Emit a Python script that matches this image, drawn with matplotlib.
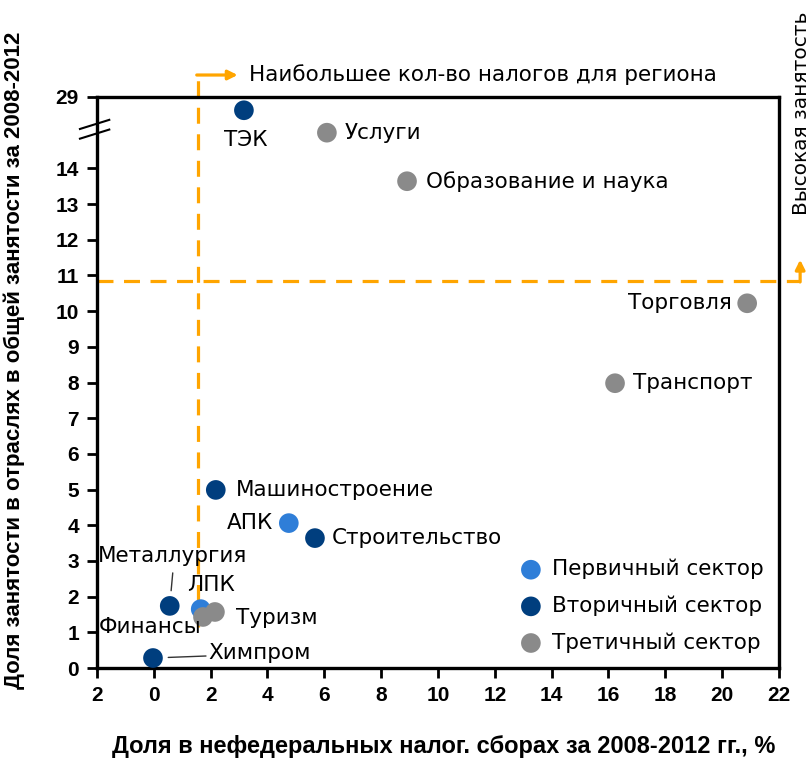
import matplotlib
matplotlib.use('Agg')
import matplotlib.pyplot as plt
import matplotlib.transforms as mtransforms
import numpy as np

# sectors: share of non-federal taxes (x, %) vs share of employment (y, %)
names = ['АПК', 'ЛПК',
         'ТЭК', 'Машиностроение', 'Строительство', 'Металлургия', 'Химпром',
         'Услуги', 'Образование и наука', 'Торговля', 'Транспорт', 'Туризм', 'Финансы']
tax_share = [4.75, 1.65,
             3.17, 2.18, 5.67, 0.56, -0.03,
             6.09, 8.91, 20.88, 16.23, 2.15, 1.73]
empl_share = [4.06, 1.65,
              23.8, 4.99, 3.64, 1.74, 0.28,
              15.0, 13.64, 10.22, 7.98, 1.57, 1.43]
sector = ['primary', 'primary',
          'secondary', 'secondary', 'secondary', 'secondary', 'secondary',
          'tertiary', 'tertiary', 'tertiary', 'tertiary', 'tertiary', 'tertiary']
sector_names = {'primary': 'Первичный сектор',
                'secondary': 'Вторичный сектор',
                'tertiary': 'Третичный сектор'}
sector_colors = {'primary': '#2F7ED8', 'secondary': '#003E7E', 'tertiary': '#8A8A8A'}

# label offsets in pixels (dx, dy, ha)
label_pos = {
    'АПК': (-16, 0, 'right'),
    'ЛПК': (10, 24, 'center'),
    'ТЭК': (2, -30, 'center'),
    'Машиностроение': (20, 0, 'left'),
    'Строительство': (17, 0, 'left'),
    'Металлургия': (3, 50, 'center'),
    'Химпром': (55, 5, 'left'),
    'Услуги': (18, 0, 'left'),
    'Образование и наука': (19, 0, 'left'),
    'Торговля': (-15, 0, 'right'),
    'Транспорт': (18, 0, 'left'),
    'Туризм': (21, -6, 'left'),
    'Финансы': (-2, -10, 'right'),
}
leaders = {'Металлургия': ((1, 11), (3, 33)), 'Химпром': ((11, -2), (53, 2))}

x_ticks = list(range(-2, 23, 2))
x_ticklabels = ['2'] + [str(v) for v in range(0, 23, 2)]
y_ticks = list(range(0, 15)) + [29]
high_empl = 10.85     # "high employment" threshold
max_tax_x = 1.55      # threshold line on tax share

BREAK = 15.0
def fwd(y):
    y = np.asarray(y, dtype=float)
    return np.where(y <= BREAK, y, BREAK + (y - BREAK) / 14.0)
def inv(d):
    d = np.asarray(d, dtype=float)
    return np.where(d <= BREAK, d, BREAK + (d - BREAK) * 14.0)

plt.rcParams['font.family'] = ['DejaVu Sans']
tick_font = dict(family=['Liberation Sans', 'DejaVu Sans'], weight='bold')
lab_size = 15.5

fig = plt.figure(figsize=(8.12, 7.65), dpi=100)
ax = fig.add_axes([97 / 812, 1 - 668 / 765, 682 / 812, 571 / 765])
ax.set_yscale('function', functions=(fwd, inv))
ax.set_xlim(-2, 22)
ax.set_ylim(0, 29)

orange = '#FFA500'
dash = dict(color=orange, lw=2.3, dashes=(5, 3.3), clip_on=False)
# horizontal threshold with arrow up on the right
trans_h = mtransforms.blended_transform_factory(ax.transAxes, ax.transData)
ax.plot([0, 1.031], [high_empl, high_empl], transform=trans_h, zorder=1, **dash)
trans_v = mtransforms.blended_transform_factory(ax.transData, ax.transAxes)
ax.plot([max_tax_x, max_tax_x], [0.072, 1.0385], transform=trans_v, zorder=1, **dash)

ax.annotate('', xy=(1.031, 0.715), xycoords='axes fraction',
            xytext=(1.031, fwd(high_empl) / 16.0 - 0.002), textcoords='axes fraction',
            arrowprops=dict(arrowstyle='-|>', color=orange, lw=2.3, mutation_scale=14,
                            shrinkA=0, shrinkB=0))
ax.annotate('', xy=(2.95, 1.0385), xycoords=trans_v,
            xytext=(max_tax_x - 0.04, 1.0385), textcoords=trans_v,
            arrowprops=dict(arrowstyle='-|>', color=orange, lw=2.3, mutation_scale=14,
                            shrinkA=0, shrinkB=0))
ax.text(3.35, 1.0385, 'Наибольшее кол-во налогов для региона', transform=trans_v,
        ha='left', va='center', fontsize=lab_size)
ax.text(1.033, 0.793, 'Высокая занятость', transform=ax.transAxes, rotation=90,
        ha='center', va='bottom', fontsize=14.5)

for key in ['primary', 'secondary', 'tertiary']:
    xs = [x for x, s in zip(tax_share, sector) if s == key]
    ys = [y for y, s in zip(empl_share, sector) if s == key]
    ax.scatter(xs, ys, s=200, color=sector_colors[key], edgecolors='none', zorder=3,
               label=sector_names[key])

for n, x, y in zip(names, tax_share, empl_share):
    dx, dy, ha = label_pos[n]
    ax.annotate(n, (x, y), xytext=(dx, dy), textcoords='offset pixels',
                ha=ha, va='center', fontsize=lab_size, zorder=4)
    if n in leaders:
        (x0, y0), (x1, y1) = leaders[n]
        ax.annotate('', (x, y), xytext=(x1, y1), textcoords='offset pixels',
                    arrowprops=dict(arrowstyle='-', color='#333333', lw=1,
                                    shrinkA=0, shrinkB=11), zorder=2)

ax.set_xticks(x_ticks)
ax.set_xticklabels(x_ticklabels, fontsize=15, **tick_font)
ax.set_yticks(y_ticks)
ax.set_yticklabels([str(v) for v in y_ticks], fontsize=15, **tick_font)
ax.minorticks_off()
ax.tick_params(direction='out', length=7, width=2, pad=6)
for sp in ax.spines.values():
    sp.set_linewidth(2.4)

# axis break marks
for yb in (0.944, 0.927):
    ax.plot([-0.025, 0.018], [yb, yb + 0.016], transform=ax.transAxes, color='black',
            lw=1.5, clip_on=False, zorder=5)

ax.set_xlabel('Доля в нефедеральных налог. сборах за 2008-2012 гг., %', fontsize=17,
              **tick_font)
ax.xaxis.set_label_coords(0.509, -0.118)
ax.set_ylabel('Доля занятости в отраслях в общей занятости за 2008-2012', fontsize=16,
              **tick_font)
ax.yaxis.set_label_coords(-0.106, 0.539)

leg = ax.legend(loc='center left', bbox_to_anchor=(0.592, 0.109), frameon=False,
                fontsize=lab_size, handletextpad=0.5, labelspacing=0.75,
                handlelength=1.0)

fig.savefig('out.png', dpi=100)
